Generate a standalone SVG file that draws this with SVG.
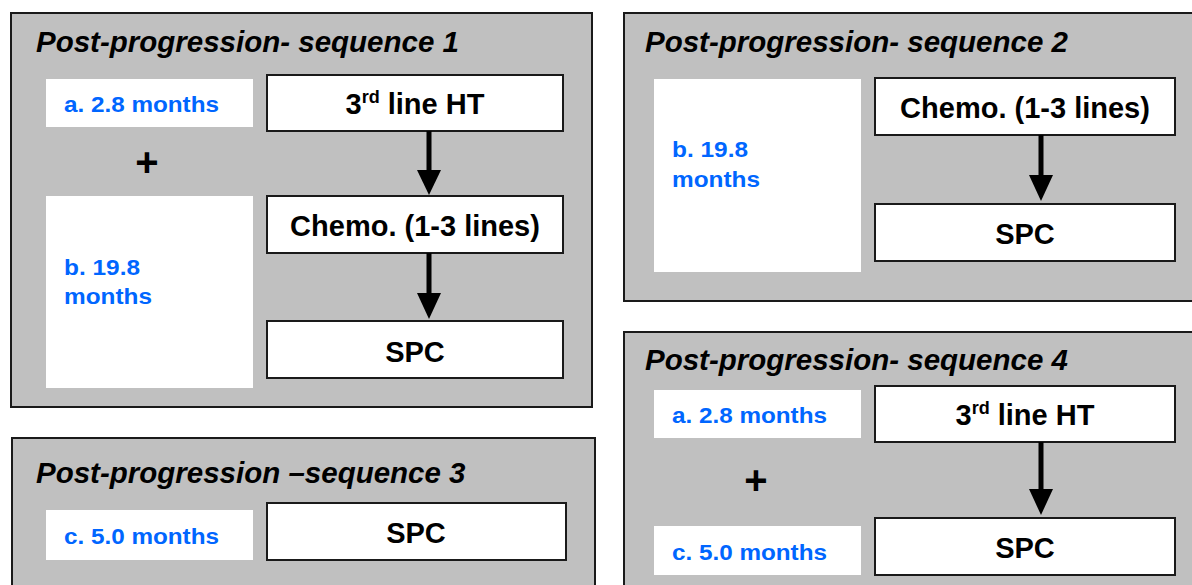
<svg xmlns="http://www.w3.org/2000/svg" width="1192" height="585" viewBox="0 0 1192 585">
<style>
.panel{fill:#c0c0c0;stroke:#1a1a1a;stroke-width:2}
.lbl{fill:#ffffff}
.node{fill:#ffffff;stroke:#1a1a1a;stroke-width:2}
.title{font-family:"Liberation Sans",Arial,sans-serif;font-weight:bold;font-style:italic;font-size:29.5px;fill:#000}
.ntxt{font-family:"Liberation Sans",Arial,sans-serif;font-weight:bold;font-size:29px;fill:#000;text-anchor:middle}
.btxt{font-family:"Liberation Sans",Arial,sans-serif;font-weight:bold;font-size:22px;fill:#0066ff}
.plus{font-family:"Liberation Sans",Arial,sans-serif;font-weight:bold;font-size:40px;fill:#000;text-anchor:middle}
.shaft{stroke:#000;stroke-width:5;fill:none}
.head{fill:#000}
</style>
<rect width="1192" height="585" fill="#ffffff"/>

<g id="panel1">
<rect class="panel" x="11" y="13" width="581" height="394"/>
<text class="title" x="36" y="52">Post-progression- sequence 1</text>
<g id="p1-a"><rect class="lbl" x="46" y="79" width="207" height="48"/><text class="btxt" x="64" y="112" textLength="155" lengthAdjust="spacingAndGlyphs">a. 2.8 months</text></g>
<text class="plus" x="147" y="176">+</text>
<g id="p1-b"><rect class="lbl" x="46" y="196" width="207" height="192"/><text class="btxt" x="64" y="275" textLength="76" lengthAdjust="spacingAndGlyphs">b. 19.8</text><text class="btxt" x="64" y="304" textLength="88" lengthAdjust="spacingAndGlyphs">months</text></g>
<g id="p1-ht"><rect class="node" x="267" y="75" width="296" height="56"/><text class="ntxt" x="415" y="114">3<tspan font-size="18" dy="-11">rd</tspan><tspan dy="11"> line HT</tspan></text></g>
<g id="p1-chemo"><rect class="node" x="267" y="196" width="296" height="57"/><text class="ntxt" x="415" y="236">Chemo. (1-3 lines)</text></g>
<g id="p1-spc"><rect class="node" x="267" y="321" width="296" height="57"/><text class="ntxt" x="415" y="362">SPC</text></g>
</g>

<g id="panel2">
<rect class="panel" x="624" y="13" width="580" height="288"/>
<text class="title" x="645" y="52">Post-progression- sequence 2</text>
<g id="p2-b"><rect class="lbl" x="654" y="79" width="207" height="193"/><text class="btxt" x="672" y="157" textLength="76" lengthAdjust="spacingAndGlyphs">b. 19.8</text><text class="btxt" x="672" y="187" textLength="88" lengthAdjust="spacingAndGlyphs">months</text></g>
<g id="p2-chemo"><rect class="node" x="875" y="78" width="300" height="57"/><text class="ntxt" x="1025" y="118">Chemo. (1-3 lines)</text></g>
<g id="p2-spc"><rect class="node" x="875" y="204" width="300" height="57"/><text class="ntxt" x="1025" y="244">SPC</text></g>
</g>

<g id="panel3">
<rect class="panel" x="12" y="438" width="583" height="160"/>
<text class="title" x="36" y="483">Post-progression –sequence 3</text>
<g id="p3-c"><rect class="lbl" x="46" y="510" width="207" height="50"/><text class="btxt" x="64" y="544" textLength="155" lengthAdjust="spacingAndGlyphs">c. 5.0 months</text></g>
<g id="p3-spc"><rect class="node" x="267" y="503" width="299" height="57"/><text class="ntxt" x="416" y="543">SPC</text></g>
</g>

<g id="panel4">
<rect class="panel" x="624" y="332" width="580" height="270"/>
<text class="title" x="645" y="370">Post-progression- sequence 4</text>
<g id="p4-a"><rect class="lbl" x="654" y="390" width="207" height="48"/><text class="btxt" x="672" y="423" textLength="155" lengthAdjust="spacingAndGlyphs">a. 2.8 months</text></g>
<text class="plus" x="756" y="494">+</text>
<g id="p4-c"><rect class="lbl" x="654" y="526" width="207" height="49"/><text class="btxt" x="672" y="560" textLength="155" lengthAdjust="spacingAndGlyphs">c. 5.0 months</text></g>
<g id="p4-ht"><rect class="node" x="875" y="386" width="300" height="56"/><text class="ntxt" x="1025" y="425">3<tspan font-size="18" dy="-11">rd</tspan><tspan dy="11"> line HT</tspan></text></g>
<g id="p4-spc"><rect class="node" x="875" y="518" width="300" height="57"/><text class="ntxt" x="1025" y="558">SPC</text></g>
</g>

<g id="connectors">
<line class="shaft" x1="429" y1="131" x2="429" y2="172"/><polygon class="head" points="417,170 441,170 429,195"/>
<line class="shaft" x1="429" y1="253" x2="429" y2="295"/><polygon class="head" points="417,293 441,293 429,319"/>
<line class="shaft" x1="1041" y1="135" x2="1041" y2="177"/><polygon class="head" points="1029,175 1053,175 1041,201"/>
<line class="shaft" x1="1041" y1="442" x2="1041" y2="491"/><polygon class="head" points="1029,489 1053,489 1041,515"/>
</g>
</svg>
